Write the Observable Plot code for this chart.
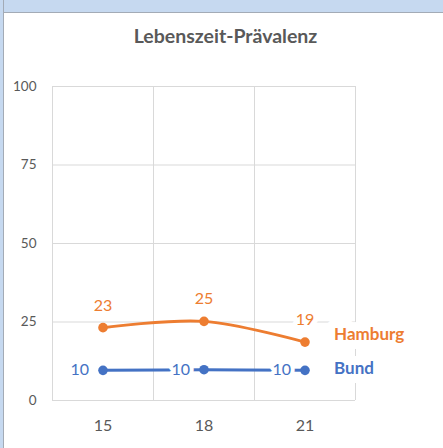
<!DOCTYPE html>
<html><head><meta charset="utf-8">
<script src="https://cdn.jsdelivr.net/npm/d3@7"></script>
<script src="https://cdn.jsdelivr.net/npm/@observablehq/plot@0.6"></script>
<style>
body{margin:0;background:#fff;width:443px;height:448px;overflow:hidden;position:relative;font-family:Lato,"Open Sans",sans-serif}
#topbar{position:absolute;left:0;top:0;width:443px;height:12px;background:#c6d9f0;border-bottom:1px solid #a3abb6;z-index:2}
#leftbar{position:absolute;left:0;top:0;width:3px;height:448px;background:#c6d9f0;border-right:1px solid #a3abb6;z-index:2}
#title{position:absolute;top:24px;left:8px;width:435px;text-align:center;font-weight:bold;font-size:19.5px;color:#595959;z-index:1}
#chart{position:absolute;left:0;top:0}
</style></head>
<body>
<div id="topbar"></div><div id="leftbar"></div>
<div id="title">Lebenszeit-Prävalenz</div>
<div id="chart"></div>
<script>
const ages = [15, 18, 21];
const hamburg = [23.2, 25.2, 18.6];
const bund = [9.6, 9.8, 9.6];
const seriesNames = ["Hamburg", "Bund"];
const seriesColors = ["#ed7d31", "#4472c4"];
const yTicks = [0, 25, 50, 75, 100];

const rows = [];
ages.forEach((a, i) => {
  rows.push({age: a, value: hamburg[i], series: "Hamburg"});
  rows.push({age: a, value: bund[i], series: "Bund"});
});
const hRows = rows.filter(d => d.series === "Hamburg");
const bRows = rows.filter(d => d.series === "Bund");
const step = ages[1] - ages[0];
const bounds = [ages[0] - step / 2, ...ages.map(a => a + step / 2)];
const color = s => seriesColors[seriesNames.indexOf(s)];
const font = "Lato, 'Open Sans', sans-serif";

const chart = Plot.plot({
  width: 443, height: 448,
  marginLeft: 52, marginRight: 88, marginTop: 86, marginBottom: 48,
  style: {fontFamily: font, fontSize: "14px", color: "#595959", background: "transparent"},
  x: {domain: [bounds[0], bounds[bounds.length - 1]], label: null},
  y: {domain: [0, 100], label: null},
  marks: [
    Plot.ruleY(yTicks, {stroke: "#d9d9d9", strokeOpacity: 1}),
    Plot.ruleX(bounds, {stroke: "#d9d9d9", strokeOpacity: 1}),
    Plot.axisX({ticks: ages, tickSize: 0, tickPadding: 19, fill: "#595959", fontSize: 16, label: null}),
    Plot.axisY({ticks: yTicks, tickSize: 0, tickPadding: 16, fill: "#595959", fontSize: 13.5, label: null}),
    Plot.line(rows, {x: "age", y: "value", z: "series", stroke: d => color(d.series), curve: "catmull-rom", strokeWidth: 3}),
    Plot.dot(rows, {x: "age", y: "value", fill: d => color(d.series), r: 4.8, stroke: "none"}),
    Plot.text(hRows, {x: "age", y: "value", text: d => Math.round(d.value), dy: -22, fill: color("Hamburg"), fontSize: 16, stroke: "white", strokeWidth: 10, paintOrder: "stroke"}),
    Plot.text(bRows, {x: "age", y: "value", text: d => Math.round(d.value), dx: -14, textAnchor: "end", fill: color("Bund"), fontSize: 16, stroke: "white", strokeWidth: 8, paintOrder: "stroke"}),
    Plot.text(hRows.slice(-1), {x: "age", y: "value", text: "series", dx: 29, dy: -8, textAnchor: "start", fill: color("Hamburg"), fontWeight: "bold", fontSize: 17, stroke: "white", strokeWidth: 18, paintOrder: "stroke"}),
    Plot.text(bRows.slice(-1), {x: "age", y: "value", text: "series", dx: 29, dy: -2, textAnchor: "start", fill: color("Bund"), fontWeight: "bold", fontSize: 17, stroke: "white", strokeWidth: 18, paintOrder: "stroke"})
  ]
});
document.getElementById("chart").append(chart);
</script>
</body></html>
